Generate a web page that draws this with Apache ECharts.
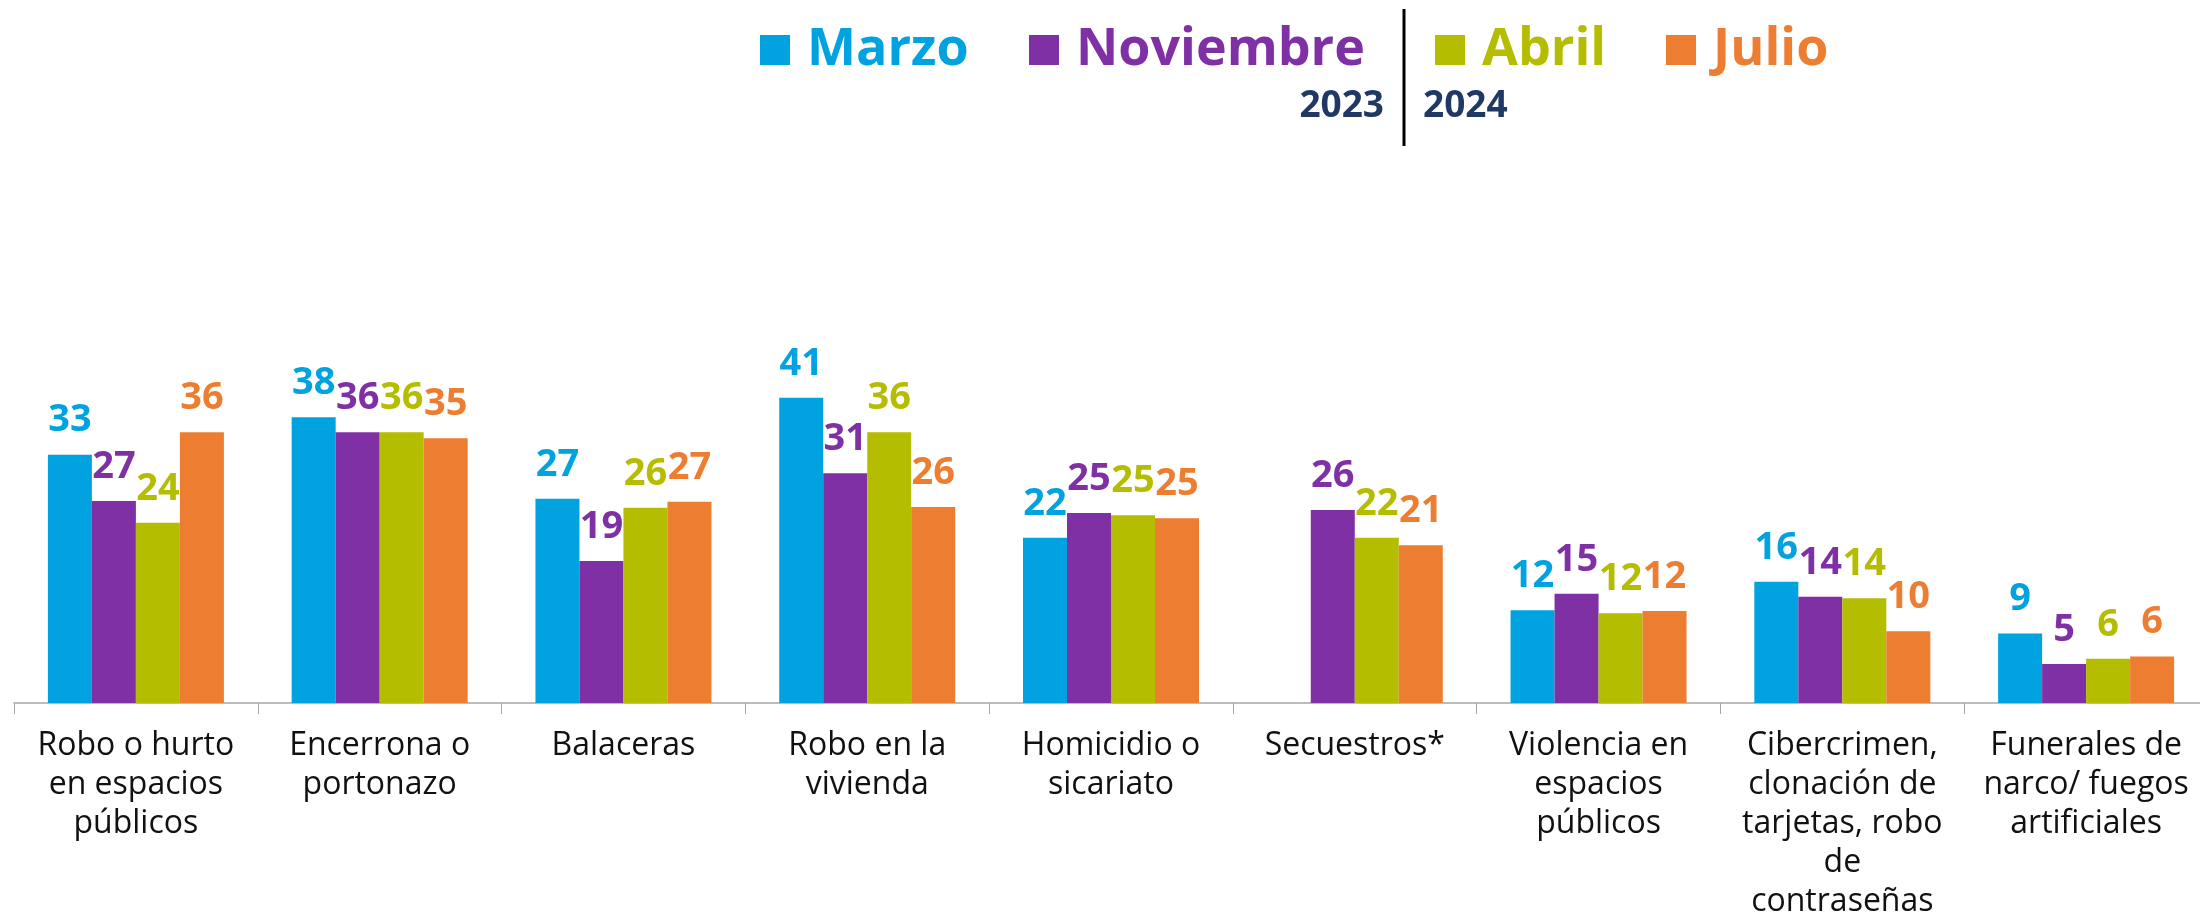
<!DOCTYPE html>
<html>
<head>
<meta charset="utf-8">
<title>Delitos percibidos</title>
<script src="https://cdn.jsdelivr.net/npm/echarts@6/dist/echarts.min.js"></script>
<style>
  html, body { margin: 0; padding: 0; background: #fff; }
  #main { width: 2200px; height: 913px; }
</style>
</head>
<body>
<div id="main"></div>
<script>
// categorias (con saltos de linea como en el original)
var categories = [
  "Robo o hurto\nen espacios\npúblicos",
  "Encerrona o\nportonazo",
  "Balaceras",
  "Robo en la\nvivienda",
  "Homicidio o\nsicariato",
  "Secuestros*",
  "Violencia en\nespacios\npúblicos",
  "Cibercrimen,\nclonación de\ntarjetas, robo\nde\ncontraseñas",
  "Funerales de\nnarco/ fuegos\nartificiales"
];

// valores (%)
var marzo2023     = [33.2, 38.2, 27.3, 40.8, 22.1, null, 12.4, 16.2, 9.3];
var noviembre2023 = [27.0, 36.2, 19.0, 30.7, 25.4, 25.8, 14.6, 14.2, 5.2];
var abril2024     = [24.1, 36.2, 26.1, 36.2, 25.1, 22.1, 12.0, 14.0, 5.9];
var julio2024     = [36.2, 35.4, 26.9, 26.2, 24.7, 21.1, 12.3, 9.6, 6.2];

var seriesNames = ["Marzo", "Noviembre", "Abril", "Julio"];
var years = ["2023", "2024"];

var colors = ["#00A3E0", "#7F30A5", "#B5BD00", "#ED7D31"];
var legendLeft = [760, 1029, 1435, 1666];

var chart = echarts.init(document.getElementById("main"), null, { renderer: "canvas" });

function makeSeries(name, data, color) {
  return {
    name: name,
    type: "bar",
    data: data,
    barWidth: 44,
    barGap: "0%",
    itemStyle: { color: color },
    label: {
      show: true,
      position: "top",
      distance: 15,
      color: color,
      fontFamily: "Open Sans",
      fontWeight: "bold",
      fontSize: 38,
      formatter: function (p) {
        return p.value == null ? "" : Math.round(p.value);
      }
    }
  };
}

var legends = [];
for (var i = 0; i < seriesNames.length; i++) {
  legends.push({
    data: [seriesNames[i]],
    left: legendLeft[i],
    top: 24,
    padding: 0,
    icon: "rect",
    itemWidth: 30,
    itemHeight: 30,
    selectedMode: false,
    textStyle: {
      color: colors[i],
      fontFamily: "Open Sans",
      fontWeight: "bold",
      fontSize: 52,
      padding: [0, 0, 0, 12]
    }
  });
}

chart.setOption({
  animation: false,
  color: colors,
  legend: legends,
  grid: {
    left: 14,
    top: 329,
    width: 2194,
    height: 374,
    containLabel: false,
    outerBoundsMode: "none"
  },
  xAxis: {
    type: "category",
    data: categories,
    axisLine: { show: true, lineStyle: { color: "#a6a6a6", width: 1.5 } },
    axisTick: { show: true, length: 11, lineStyle: { color: "#a6a6a6", width: 1 } },
    axisLabel: {
      interval: 0,
      margin: 23,
      color: "#111",
      fontFamily: "Open Sans",
      fontSize: 32,
      lineHeight: 39
    }
  },
  yAxis: {
    type: "value",
    min: 0,
    max: 50,
    show: false,
    splitLine: { show: false }
  },
  series: [
    makeSeries(seriesNames[0], marzo2023, colors[0]),
    makeSeries(seriesNames[1], noviembre2023, colors[1]),
    makeSeries(seriesNames[2], abril2024, colors[2]),
    makeSeries(seriesNames[3], julio2024, colors[3])
  ],
  graphic: [
    // separador entre 2023 y 2024
    { type: "line", shape: { x1: 1404, y1: 9, x2: 1404, y2: 146 }, style: { stroke: "#000", lineWidth: 3 } },
    {
      type: "text", x: 1384, y: 106,
      style: { text: years[0], align: "right", verticalAlign: "middle", fill: "#1F3864",
               font: "bold 37px 'Open Sans'" }
    },
    {
      type: "text", x: 1423, y: 106,
      style: { text: years[1], align: "left", verticalAlign: "middle", fill: "#1F3864",
               font: "bold 37px 'Open Sans'" }
    }
  ]
});
</script>
</body>
</html>
